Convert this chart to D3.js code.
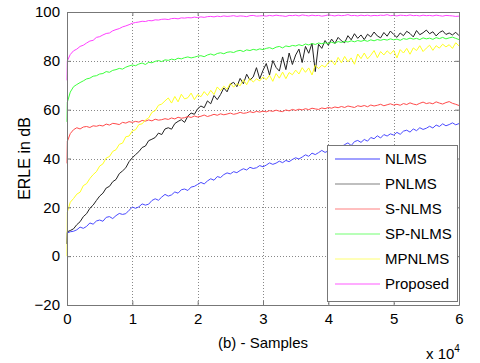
<!DOCTYPE html>
<html>
<head>
<meta charset="utf-8">
<script src="https://cdn.jsdelivr.net/npm/d3@7"></script>
<style>
  body { margin: 0; background: #fff; }
  svg text { font-family: "Liberation Sans", Arial, sans-serif; }
</style>
</head>
<body>
<div id="chart"></div>
<script>
// ERLE curves, samples 0..6 (x 10^4), first two points are the start jump at x=0
var xTicks = [0, 1, 2, 3, 4, 5, 6];
var yTicks = [-20, 0, 20, 40, 60, 80, 100];
var seriesNames = ["NLMS", "PNLMS", "S-NLMS", "SP-NLMS", "MPNLMS", "Proposed"];
var seriesColors = ["#4a4aff", "#222222", "#ff4a4a", "#3cff3c", "#ffff20", "#ff40ff"];
var legendColors = ["#8080ff", "#aaaaaa", "#ffaaaa", "#a0ffa0", "#ffffa0", "#ff90ff"];

var nlms = [5, 9.5,
    10, 10.2, 10.8, 11.9, 11.4, 12.2, 13.6, 13.1, 14.4, 14.8,
    14.3, 15.9, 16.2, 15.4, 16.6, 17.5, 17.1, 17.4, 18.8, 20.1,
    19.6, 20.2, 21.4, 20.9, 21.3, 22.8, 23.5, 22.9, 24.2, 25.3,
    24.6, 25.1, 26.3, 25.8, 27.2, 27.5, 26.9, 28.3, 28.6, 29.4,
    30.2, 29.6, 30.8, 31.7, 31.1, 32.6, 32.2, 33.4, 34.1, 33.7,
    34.6, 34.2, 35.1, 35.8, 35.3, 36.4, 35.9, 36.2, 37.1, 36.6,
    37.3, 38.2, 37.6, 38.1, 38.9, 38.3, 39.2, 38.7, 39.6, 40.3,
    39.8, 40.6, 41.5, 40.9, 42.2, 41.6, 42.4, 43.3, 42.5, 43.1,
    44.2, 43.6, 45.1, 44.8, 45.7, 46.4, 45.3, 46.9, 47.4, 46.6,
    47.8, 47.1, 48.6, 48.1, 49.3, 48.4, 49.8, 49.2, 50.1, 49.6,
    50.7, 49.9, 51.2, 51.6, 50.8, 52.1, 51.4, 52.6, 51.9, 52.4,
    53.2, 52.5, 53.7, 53.1, 54.2, 53.4, 53.9, 54.6, 53.8, 54.3];

var pnlms = [5, 10,
    10.5, 11.2, 12.9, 14.1, 16.2, 17.4, 19.6, 20.9, 22.8, 24.6,
    25.8, 27.9, 28.6, 30.5, 31.4, 33.8, 34.9, 36.2, 38.7, 40.3,
    41.6, 42.8, 44.5, 45.1, 47.3, 47.9, 48.6, 50.4, 49.8, 52.1,
    52.6, 52.0, 54.3, 55.2, 55.9, 54.8, 57.4, 58.6, 58.1, 60.4,
    61.5, 60.8, 63.6, 62.4, 65.8, 64.1, 66.2, 68.9, 67.3, 70.5,
    71.2, 69.4, 72.8, 70.6, 74.5, 72.1, 73.4, 77.2, 72.6, 76.1,
    78.9, 74.2, 80.1, 77.3, 75.8, 81.6, 76.4, 83.2, 78.5, 82.4,
    84.8, 79.3, 85.9, 83.1, 87.2, 75.6, 86.8, 85.1, 88.3, 86.4,
    88.9, 87.1, 89.6, 88.2, 87.4, 90.3, 88.6, 91.1, 89.2, 90.6,
    88.7, 90.9, 89.8, 91.8, 90.2, 89.4, 91.6, 90.1, 92.2, 90.8,
    89.6, 91.4, 90.3, 92.1, 91.2, 89.8, 92.4, 90.7, 91.5, 92.6,
    91.1, 91.9, 90.2, 91.6, 92.3, 90.8, 91.4, 90.6, 91.7, 90.3];

var snlms = [38, 47,
    50.2, 51.8, 52.6, 52.1, 52.9, 53.1, 52.7, 53.4, 53.2, 53.6,
    53.3, 54.1, 53.7, 54.4, 54.2, 53.9, 54.8, 54.5, 55.1, 54.8,
    55.2, 54.9, 55.6, 55.3, 55.8, 55.4, 56.1, 55.7, 55.9, 56.3,
    56.0, 56.6, 56.2, 56.9, 56.5, 56.7, 57.2, 56.8, 57.4, 57.0,
    57.3, 57.8, 57.2, 57.6, 58.1, 57.7, 58.3, 57.9, 58.2, 58.6,
    58.1, 58.4, 58.9, 58.5, 58.7, 59.2, 58.8, 59.3, 59.0, 59.4,
    59.1, 59.6, 59.3, 59.8, 59.4, 59.2, 59.9, 59.5, 60.1, 59.7,
    60.2, 59.9, 60.4, 60.0, 60.6, 60.3, 60.1, 60.7, 60.4, 60.9,
    60.6, 61.1, 60.8, 61.3, 60.9, 61.5, 61.2, 60.9, 61.6, 61.3,
    61.7, 61.2, 61.9, 61.5, 61.8, 62.2, 61.6, 62.0, 62.4, 61.9,
    62.2, 61.8, 62.5, 62.1, 62.8, 62.3, 62.0, 62.6, 63.1, 62.5,
    62.8, 62.4, 63.2, 62.7, 62.3, 62.9, 63.3, 62.6, 62.2, 61.7];

var spnlms = [55, 63,
    67.2, 69.4, 70.3, 71.1, 71.8, 72.6, 72.9, 73.7, 73.9, 74.6,
    74.8, 75.6, 75.3, 76.1, 76.4, 76.9, 76.6, 77.4, 77.9, 78.3,
    78.0, 78.7, 79.1, 78.5, 79.4, 79.2, 79.8, 80.1, 79.7, 80.4,
    80.2, 80.7, 80.4, 81.1, 80.8, 81.3, 81.6, 81.2, 81.5, 81.9,
    82.1, 81.7, 82.4, 82.8, 82.3, 83.0, 83.3, 82.9, 83.5, 83.7,
    83.4, 84.0, 84.3, 83.8, 84.5, 84.2, 84.7, 84.4, 84.9, 84.6,
    85.1, 85.4, 84.9, 85.6, 85.9, 85.3, 86.1, 85.8, 86.3, 86.1,
    86.6, 86.2, 86.9, 86.5, 87.1, 86.7, 87.3, 87.0, 87.4, 87.1,
    87.6, 87.2, 87.9, 87.5, 88.0, 87.7, 88.2, 87.8, 88.3, 88.0,
    88.4, 88.0, 88.6, 88.2, 88.7, 88.4, 88.8, 88.5, 89.0, 88.6,
    88.9, 88.4, 89.1, 88.8, 89.3, 88.9, 89.2, 88.7, 89.4, 89.0,
    89.3, 88.8, 89.5, 89.1, 89.6, 89.0, 89.4, 89.7, 89.2, 88.7];

var mpnlms = [0, 18,
    22.1, 23.6, 25.4, 26.2, 28.9, 29.7, 31.8, 33.4, 34.6, 36.9,
    37.8, 40.2, 40.8, 42.9, 43.6, 45.8, 46.3, 48.9, 49.2, 51.3,
    51.8, 53.9, 54.2, 55.8, 56.6, 58.9, 59.6, 61.8, 62.3, 63.6,
    64.8, 62.7, 65.4, 63.2, 66.3, 64.4, 64.9, 66.8, 64.1, 66.2,
    65.3, 67.4, 65.8, 67.9, 66.2, 69.3, 67.8, 69.6, 68.4, 70.8,
    69.2, 70.7, 69.8, 72.3, 70.2, 72.9, 71.3, 72.6, 71.8, 73.4,
    72.3, 74.1, 71.6, 74.8, 72.9, 75.4, 72.7, 75.2, 74.3, 76.2,
    74.6, 77.2, 75.3, 77.1, 74.2, 78.3, 76.8, 78.2, 77.4, 79.3,
    80.2, 78.3, 81.4, 79.2, 81.8, 79.6, 81.2, 78.6, 82.8, 80.9,
    83.2, 80.8, 82.3, 84.2, 81.3, 83.8, 82.4, 84.1, 82.8, 84.3,
    81.2, 84.6, 83.2, 85.1, 82.7, 85.3, 84.2, 86.2, 83.8, 85.2,
    86.4, 84.3, 86.2, 85.2, 86.8, 85.7, 86.6, 85.1, 87.4, 86.1];

var proposed = [72, 80,
    82.6, 84.1, 84.8, 85.9, 86.4, 87.3, 88.1, 88.4, 89.6, 89.9,
    90.6, 91.2, 91.4, 92.3, 92.8, 93.2, 93.9, 94.3, 94.8, 95.4,
    95.7, 95.9, 96.2, 96.1, 96.5, 96.4, 96.8, 96.7, 97.0, 97.1,
    96.9, 97.3, 97.4, 97.2, 97.6, 97.5, 97.7, 97.6, 97.9, 97.7,
    98.0, 97.8, 98.1, 98.2, 98.0, 98.3, 98.1, 98.4, 98.2, 98.3,
    98.5, 98.2, 98.4, 98.3, 98.1, 98.5, 98.6, 98.3, 98.4, 98.5,
    98.3, 98.6, 98.4, 98.7, 98.5, 98.4, 98.2, 98.6, 98.5, 98.7,
    98.4, 98.8, 98.6, 98.4, 98.7, 98.5, 98.6, 98.3, 98.5, 98.8,
    98.6, 98.4, 98.7, 98.5, 98.6, 98.9, 98.5, 98.6, 98.4, 98.7,
    98.5, 98.7, 98.4, 98.6, 98.5, 98.7, 98.6, 98.9, 98.5, 98.6,
    98.4, 98.7, 98.6, 98.5, 98.8, 98.5, 98.6, 98.4, 98.7, 98.5,
    98.6, 98.4, 98.7, 98.5, 98.3, 98.6, 98.5, 98.4, 98.2, 98.3];

var allSeries = [nlms, pnlms, snlms, spnlms, mpnlms, proposed];
// sample positions: start jump at 0, then every 0.05 up to 6
var samples = [0, 0.005].concat(d3.range(1, 121).map(function(i) { return i * 0.05; }));

var svgWidth = 480, svgHeight = 363;
var margin = { top: 12, right: 21, bottom: 58, left: 67 };
var width = svgWidth - margin.left - margin.right;
var height = svgHeight - margin.top - margin.bottom;

var svg = d3.select("#chart").append("svg")
    .attr("width", svgWidth)
    .attr("height", svgHeight);

var g = svg.append("g")
    .attr("transform", "translate(" + margin.left + "," + margin.top + ")");

var x = d3.scaleLinear().domain([0, 6]).range([0, width]);
var y = d3.scaleLinear().domain([-20, 100]).range([height, 0]);

// dotted grid
g.selectAll(".vgrid").data(xTicks.slice(1, -1)).enter().append("line")
    .attr("x1", function(d) { return Math.round(x(d)) + 0.5; })
    .attr("x2", function(d) { return Math.round(x(d)) + 0.5; })
    .attr("y1", 0).attr("y2", height)
    .attr("stroke", "#888").attr("stroke-dasharray", "1,2");
g.selectAll(".hgrid").data(yTicks.slice(1, -1)).enter().append("line")
    .attr("y1", function(d) { return Math.round(y(d)) + 0.5; })
    .attr("y2", function(d) { return Math.round(y(d)) + 0.5; })
    .attr("x1", 0).attr("x2", width)
    .attr("stroke", "#888").attr("stroke-dasharray", "1,2");

// curves
var line = d3.line()
    .x(function(d, i) { return x(samples[i]); })
    .y(function(d) { return y(d); });

allSeries.forEach(function(vals, k) {
    g.append("path")
        .datum(vals)
        .attr("d", line)
        .attr("fill", "none")
        .attr("stroke", seriesColors[k])
        .attr("stroke-width", 1);
});

// axes, matlab style inward ticks
function styleAxis(sel) {
    sel.selectAll(".domain").attr("stroke", "#777");
    sel.selectAll(".tick line").attr("stroke", "#777");
    sel.selectAll(".tick text").attr("fill", "#000").style("font-size", "15px");
}

g.append("g").attr("transform", "translate(0," + height + ")")
    .call(d3.axisBottom(x).tickValues(xTicks).tickFormat(d3.format("d")).tickSize(-4).tickSizeOuter(0).tickPadding(8))
    .call(styleAxis);
g.append("g")
    .call(d3.axisTop(x).tickValues(xTicks).tickFormat("").tickSize(-4).tickSizeOuter(0))
    .call(styleAxis);
g.append("g")
    .call(d3.axisLeft(y).tickValues(yTicks).tickFormat(d3.format("d")).tickSize(-4).tickSizeOuter(0).tickPadding(7))
    .call(styleAxis);
g.append("g").attr("transform", "translate(" + width + ",0)")
    .call(d3.axisRight(y).tickValues(yTicks).tickFormat("").tickSize(-4).tickSizeOuter(0))
    .call(styleAxis);

// labels
svg.append("text")
    .attr("transform", "translate(30," + (margin.top + height / 2) + ") rotate(-90)")
    .attr("text-anchor", "middle")
    .style("font-size", "16px")
    .text("ERLE in dB");
svg.append("text")
    .attr("x", margin.left + width / 2)
    .attr("y", 348)
    .attr("text-anchor", "middle")
    .style("font-size", "15px")
    .text("(b) - Samples");
var expo = svg.append("text")
    .attr("x", 426)
    .attr("y", 359)
    .style("font-size", "15px")
    .text("x 10");
expo.append("tspan").attr("dy", -7).style("font-size", "10px").text("4");

// legend
var legend = svg.append("g").attr("transform", "translate(327,145)");
legend.append("rect")
    .attr("x", 0.5).attr("y", 0.5)
    .attr("width", 130).attr("height", 156)
    .attr("fill", "#fff").attr("stroke", "#777");
seriesNames.forEach(function(name, k) {
    var ly = 14 + k * 25;
    legend.append("line")
        .attr("x1", 8).attr("x2", 53)
        .attr("y1", ly).attr("y2", ly)
        .attr("stroke", legendColors[k]).attr("stroke-width", 1.5);
    legend.append("text")
        .attr("x", 58).attr("y", ly + 5)
        .style("font-size", "15px")
        .text(name);
});
</script>
</body>
</html>
